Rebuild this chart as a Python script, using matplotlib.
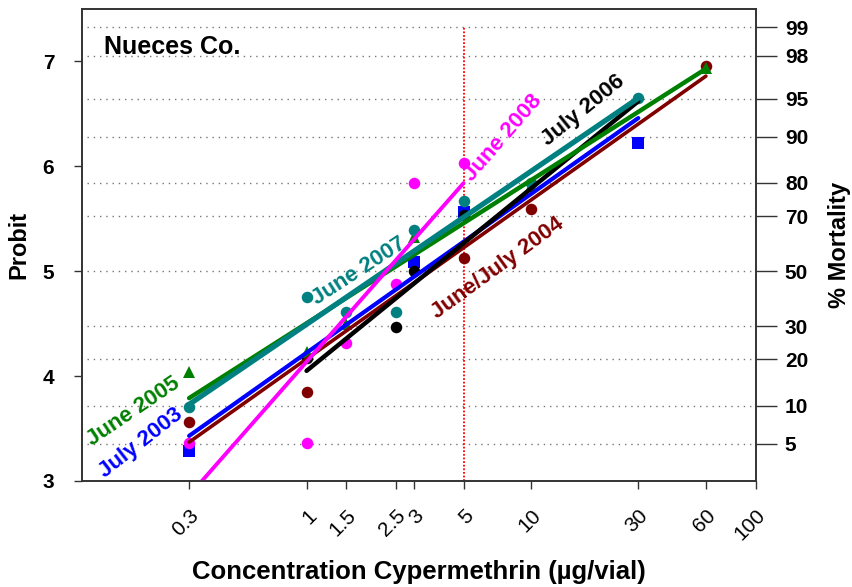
import matplotlib
matplotlib.use("Agg")
import matplotlib.pyplot as plt
from statistics import NormalDist

plt.rcParams['font.family'] = ['Liberation Sans', 'DejaVu Sans']

# ---- data ----
xticks = [0.3, 1, 1.5, 2.5, 3, 5, 10, 30, 60, 100]
xtick_labels = ["0.3", "1", "1.5", "2.5", "3", "5", "10", "30", "60", "100"]
mortality = [99, 98, 95, 90, 80, 70, 50, 30, 20, 10, 5]

# points
jul03_x = [0.3, 3, 5, 30]
jul03_y = [3.29, 5.09, 5.56, 6.22]
jun04_x = [0.3, 1, 5, 10, 60]
jun04_y = [3.56, 3.85, 5.13, 5.59, 6.96]
jun05_x = [0.3, 1, 1.5, 3, 10, 60]
jun05_y = [4.04, 4.23, 4.50, 5.33, 5.81, 6.94]
jul06_x = [1, 2.5, 3, 5]
jul06_y = [4.17, 4.47, 5.00, 5.54]
jun07_x = [0.3, 1, 1.5, 2.5, 3, 5, 10, 30]
jun07_y = [3.71, 4.75, 4.61, 4.61, 5.39, 5.67, 5.84, 6.65]
jun08_x = [0.3, 1, 1.5, 2.5, 3, 5]
jun08_y = [3.36, 3.36, 4.32, 4.88, 5.84, 6.03]

# fitted probit lines (end points)
jul03_fx, jul03_fy = [0.3, 30], [3.43, 6.46]
jun04_fx, jun04_fy = [0.3, 60], [3.37, 6.86]
jun05_fx, jun05_fy = [0.3, 60], [3.79, 6.93]
jul06_fx, jul06_fy = [1, 30], [4.05, 6.62]
jun07_fx, jun07_fy = [0.3, 30], [3.73, 6.65]
jun08_fx, jun08_fy = [0.342, 5], [3.0, 5.84]

fig = plt.figure(figsize=(8.52, 5.87), dpi=100)
ax = fig.add_axes([0.0962, 0.1806, 0.7908, 0.8041])
ax.set_xscale('log')
ax.set_xlim(0.1, 100)
ax.set_ylim(3, 7.5)

probit_levels = [5 + NormalDist().inv_cdf(m / 100) for m in mortality]
for p in probit_levels:
    ax.axhline(p, xmin=0.008, xmax=1, color='#777777', lw=1.0,
               linestyle=(0, (1, 3.5)), zorder=1)

ax.vlines(5, 3, probit_levels[0], colors='red', lw=1.3,
          linestyles=(0, (1, 1)), zorder=2)

series = [
    (jul03_x, jul03_y, jul03_fx, jul03_fy, '#0000FF', 's', 3.0),
    (jun04_x, jun04_y, jun04_fx, jun04_fy, '#800000', 'o', 2.6),
    (jul06_x, jul06_y, jul06_fx, jul06_fy, '#000000', 'o', 3.2),
    (jun05_x, jun05_y, jun05_fx, jun05_fy, '#008000', '^', 3.2),
    (jun07_x, jun07_y, jun07_fx, jun07_fy, '#008080', 'o', 3.8),
    (jun08_x, jun08_y, jun08_fx, jun08_fy, '#FF00FF', 'o', 2.8),
]
for i, (px, py, fx, fy, c, m, lw) in enumerate(series):
    ax.plot(px, py, linestyle='none', marker=m, color=c, markersize=8.3,
            markeredgewidth=0, zorder=3 + i * 0.01)
    ax.plot(fx, fy, color=c, lw=lw, solid_capstyle='round', zorder=4 + i * 0.01)

ax.set_xticks(xticks)
ax.set_xticklabels(xtick_labels, rotation=45, ha='right', va='top',
                   rotation_mode='anchor', fontsize=15)
ax.xaxis.set_minor_locator(matplotlib.ticker.NullLocator())
ax.tick_params(axis='x', length=6, width=1, pad=12, colors='#333333', labelcolor='black')
ax.set_yticks([3, 4, 5, 6, 7])
ax.set_yticklabels(["3", "4", "5", "6", "7"], fontsize=15, fontweight='bold')
ax.tick_params(axis='y', length=6, width=1, pad=14, colors='#333333', labelcolor='black')
for s in ax.spines.values():
    s.set_color('#333333')
    s.set_linewidth(1.2)

ax.set_xlabel("Concentration Cypermethrin (µg/vial)", fontsize=18.5,
              fontweight='bold', labelpad=11)
ax.set_ylabel("Probit", fontsize=17, fontweight='bold', labelpad=9)

ax2 = ax.twinx()
ax2.set_ylim(3, 7.5)
ax2.set_yticks(probit_levels)
ax2.set_yticklabels([str(m) for m in mortality], fontsize=15, fontweight='bold')
ax2.tick_params(axis='y', length=15, width=1, pad=6, colors='#333333', labelcolor='black')
ax2.set_ylabel("% Mortality", fontsize=17, fontweight='bold', labelpad=14)
for s in ax2.spines.values():
    s.set_color('#333333')
    s.set_linewidth(1.2)

ax.text(0.033, 0.92, "Nueces Co.", transform=ax.transAxes, fontsize=18,
        fontweight='bold', ha='left', va='center')

lbl = dict(fontsize=16, fontweight='bold', ha='center', va='center',
           rotation_mode='anchor', zorder=6)
ax.text(17.1, 6.53, "July 2006", color='#000000', rotation=39, **lbl)
ax.text(7.5, 6.27, "June 2008", color='#FF00FF', rotation=49, **lbl)
ax.text(7.1, 5.03, "June/July 2004", color='#800000', rotation=36, **lbl)
ax.text(1.72, 5.0, "June 2007", color='#008080', rotation=33, **lbl)
ax.text(0.170, 3.66, "June 2005", color='#008000', rotation=34, **lbl)
ax.text(0.183, 3.36, "July 2003", color='#0000FF', rotation=38, **lbl)

fig.savefig("out.png", dpi=100)
